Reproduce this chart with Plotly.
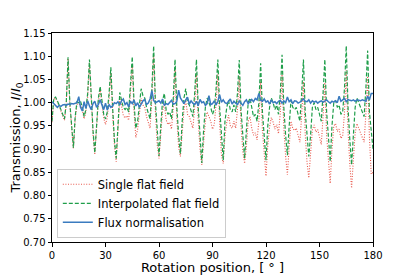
import plotly.graph_objects as go

angle = list(range(0, 181))

single_flat = [
    0.958, 1.008, 1.010, 1.003, 0.992, 0.982, 0.972, 0.962, 0.997, 1.095,
    0.995, 0.945, 0.900, 0.965, 0.997, 0.995, 0.998, 0.985, 0.965, 0.980,
    1.012, 1.085, 0.992, 0.932, 0.888, 0.952, 1.002, 1.027, 0.992, 0.967,
    0.953, 0.968, 1.008, 1.064, 0.978, 0.908, 0.873, 0.948, 1.010, 0.993,
    0.972, 0.967, 0.972, 0.962, 1.012, 1.081, 0.982, 0.925, 0.942, 0.982,
    1.010, 0.995, 0.990, 0.970, 0.955, 0.945, 1.010, 1.102, 0.980, 0.910,
    0.880, 0.928, 0.983, 0.998, 0.963, 0.953, 0.958, 0.943, 0.988, 1.071,
    0.965, 0.905, 0.884, 0.935, 0.985, 1.005, 0.975, 0.970, 0.955, 0.945,
    0.990, 1.063, 0.960, 0.900, 0.866, 0.910, 0.960, 0.980, 0.970, 0.960,
    0.943, 0.953, 0.998, 1.061, 0.958, 0.888, 0.869, 0.928, 0.958, 0.973,
    0.950, 0.945, 0.960, 0.945, 0.985, 1.057, 0.950, 0.895, 0.869, 0.905,
    0.960, 0.970, 0.945, 0.930, 0.935, 0.920, 0.960, 1.045, 0.940, 0.880,
    0.842, 0.908, 0.948, 0.968, 0.958, 0.943, 0.953, 0.933, 0.978, 1.061,
    0.945, 0.885, 0.845, 0.905, 0.960, 0.945, 0.940, 0.945, 0.930, 0.915,
    0.972, 1.045, 0.932, 0.872, 0.838, 0.882, 0.942, 0.952, 0.937, 0.942,
    0.925, 0.910, 0.970, 1.043, 0.930, 0.870, 0.826, 0.900, 0.950, 0.955,
    0.938, 0.943, 0.923, 0.928, 0.978, 1.070, 0.938, 0.868, 0.816, 0.878,
    0.935, 0.955, 0.945, 0.935, 0.925, 0.915, 0.975, 1.057, 0.925, 0.846,
    0.850,
]

interpolated_flat = [
    0.960, 1.010, 1.012, 1.005, 0.995, 0.985, 0.975, 0.965, 1.000, 1.098,
    1.000, 0.950, 0.903, 0.970, 1.002, 1.000, 1.003, 0.990, 0.970, 0.985,
    1.020, 1.093, 1.000, 0.940, 0.892, 0.960, 1.010, 1.035, 1.000, 0.975,
    0.965, 0.980, 1.020, 1.076, 0.990, 0.920, 0.880, 0.960, 1.022, 1.005,
    0.990, 0.985, 0.990, 0.980, 1.030, 1.099, 1.000, 0.945, 0.960, 1.000,
    1.030, 1.015, 1.010, 0.990, 0.975, 0.965, 1.030, 1.122, 1.000, 0.930,
    0.885, 0.950, 1.005, 1.020, 0.985, 0.975, 0.980, 0.965, 1.010, 1.093,
    0.990, 0.930, 0.890, 0.960, 1.010, 1.030, 1.000, 0.995, 0.980, 0.970,
    1.020, 1.093, 0.990, 0.930, 0.870, 0.940, 0.990, 1.010, 1.000, 0.990,
    0.975, 0.985, 1.030, 1.093, 0.990, 0.920, 0.876, 0.960, 0.990, 1.005,
    0.985, 0.980, 0.995, 0.980, 1.020, 1.092, 0.985, 0.930, 0.880, 0.940,
    1.000, 1.010, 0.985, 0.970, 0.975, 0.960, 1.000, 1.085, 0.980, 0.920,
    0.876, 0.950, 0.990, 1.010, 1.000, 0.985, 0.995, 0.975, 1.020, 1.103,
    0.990, 0.930, 0.887, 0.950, 1.005, 0.990, 0.985, 0.990, 0.975, 0.960,
    1.020, 1.093, 0.980, 0.920, 0.884, 0.930, 0.990, 1.000, 0.985, 0.990,
    0.975, 0.960, 1.020, 1.093, 0.980, 0.920, 0.873, 0.950, 1.000, 1.005,
    0.990, 0.995, 0.975, 0.980, 1.030, 1.122, 0.990, 0.920, 0.866, 0.930,
    0.990, 1.010, 1.000, 0.990, 0.980, 0.970, 1.030, 1.112, 0.980, 0.930,
    0.900,
]

flux_norm = [
    1.002, 0.998, 0.993, 0.990, 0.994, 0.992, 0.995, 0.996, 0.994, 0.997,
    0.996, 0.998, 0.997, 0.999, 1.000, 1.013, 0.990, 0.982, 1.002, 0.988,
    1.004, 0.993, 0.985, 0.998, 1.003, 0.990, 0.996, 1.006, 0.994, 0.985,
    0.999, 0.984, 0.996, 0.990, 0.993, 1.000, 0.998, 1.002, 0.995, 1.004,
    1.008, 0.996, 1.000, 0.991, 1.003, 0.998, 1.006, 0.993, 1.000, 0.990,
    0.997, 1.004, 1.007, 0.996, 0.999, 1.008, 1.026, 1.005, 1.000, 1.003,
    1.004, 0.999, 1.008, 0.994, 0.998, 0.996, 1.000, 1.005, 0.997, 0.998,
    1.003, 1.027, 1.010, 1.004, 0.998, 1.006, 1.012, 0.997, 1.004, 0.999,
    0.996, 1.003, 0.993, 1.007, 1.000, 1.002, 0.994, 0.998, 1.015, 0.996,
    0.998, 1.004, 0.995, 1.003, 1.017, 1.001, 1.006, 1.000, 0.998, 1.003,
    1.008, 0.997, 1.003, 0.999, 0.996, 1.004, 1.000, 0.994, 1.002, 1.006,
    0.998, 1.003, 1.007, 1.002, 1.009, 1.006, 1.020, 1.005, 1.003, 1.008,
    1.001, 1.004, 0.997, 1.006, 1.000, 1.002, 0.998, 1.003, 1.005, 0.999,
    1.004, 1.000, 1.012, 1.002, 1.006, 0.998, 1.004, 1.003, 0.999, 1.001,
    1.004, 1.008, 1.003, 1.002, 1.006, 0.999, 1.004, 1.001, 1.003, 0.999,
    1.002, 1.004, 1.001, 1.003, 1.006, 1.002, 0.999, 1.003, 1.001, 1.004,
    1.000, 1.014, 1.003, 1.006, 1.009, 1.002, 1.007, 1.005, 1.004, 1.006,
    1.003, 1.006, 1.005, 1.004, 1.006, 1.005, 1.003, 1.014, 1.006, 1.020,
    1.020,
]

x_ticks = [0, 30, 60, 90, 120, 150, 180]
y_ticks = [0.70, 0.75, 0.80, 0.85, 0.90, 0.95, 1.00, 1.05, 1.10, 1.15]
y_tick_text = ["%.2f" % v for v in y_ticks]

font_family = "DejaVu Sans"

fig = go.Figure()
fig.add_trace(go.Scatter(
    x=angle, y=single_flat, mode="lines", name="Single flat field",
    line=dict(color="#e8584c", width=1.1, dash="1px,1.6px"),
))
fig.add_trace(go.Scatter(
    x=angle, y=interpolated_flat, mode="lines", name="Interpolated flat field",
    line=dict(color="#1f9e4a", width=1.2, dash="4px,2px"),
))
fig.add_trace(go.Scatter(
    x=angle, y=flux_norm, mode="lines", name="Flux normalisation",
    line=dict(color="#3a7bbf", width=1.5),
))

fig.update_layout(
    width=415, height=277,
    margin=dict(l=44, r=50, t=25, b=43, autoexpand=False),
    paper_bgcolor="white", plot_bgcolor="white",
    font=dict(family=font_family, size=10, color="black"),
    showlegend=True,
    legend=dict(
        x=0.015, y=0.02, xanchor="left", yanchor="bottom",
        bgcolor="rgba(255,255,255,0.85)", bordercolor="#cccccc", borderwidth=1,
        font=dict(family=font_family, size=11.5, color="black"),
        tracegroupgap=0, itemwidth=30,
    ),
    xaxis=dict(
        range=[0, 180], tickmode="array", tickvals=x_ticks,
        ticks="outside", ticklen=3.5, tickwidth=1, tickcolor="black",
        showline=True, linecolor="black", linewidth=1, mirror=True,
        showgrid=False, zeroline=False, automargin=False,
        tickfont=dict(size=10),
        title=dict(text="Rotation position, [ ° ]", font=dict(size=13), standoff=1),
    ),
    yaxis=dict(
        range=[0.70, 1.15], tickmode="array", tickvals=y_ticks, ticktext=y_tick_text,
        ticks="outside", ticklen=3.5, tickwidth=1, tickcolor="black",
        showline=True, linecolor="black", linewidth=1, mirror=True,
        showgrid=False, zeroline=False, automargin=False,
        tickfont=dict(size=10),
        title=dict(text="Transmission, <i>I</i>/<i>I</i><sub>0</sub>", font=dict(size=13), standoff=4),
    ),
)

fig.write_html("out.html")
